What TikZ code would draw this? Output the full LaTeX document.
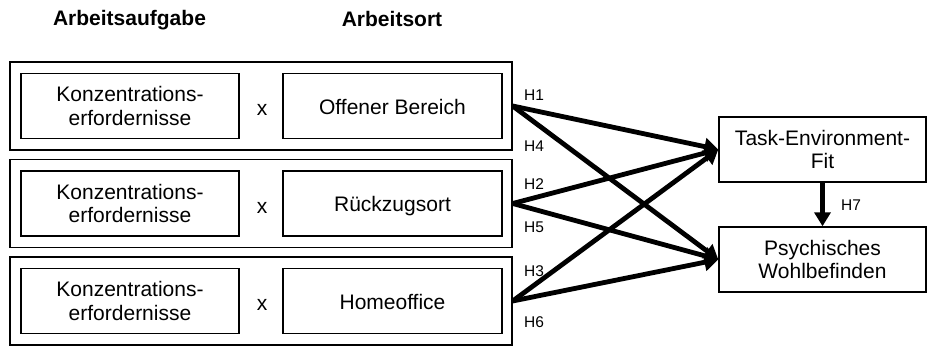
\documentclass[tikz,border=0pt]{standalone}
\usepackage{fontspec}
\setmainfont{Liberation Sans}
\usetikzlibrary{arrows.meta}
\begin{document}
\begin{tikzpicture}[x=1pt,y=-1pt,
  txt/.style={font=\fontsize{21}{23.5}\selectfont, align=center, inner sep=0pt},
  inbox/.style={txt, draw, line width=1.4pt, minimum height=65pt},
  outbox/.style={draw, line width=1.4pt, minimum width=502pt, minimum height=88pt, inner sep=0pt},
  head/.style={font=\fontsize{21}{24}\selectfont\bfseries, inner sep=0pt},
  hlab/.style={font=\fontsize{15.5}{18}\selectfont, inner sep=0pt},
  arr/.style={line width=4.8pt, -{Triangle[length=14pt,width=17pt]}},
]
\useasboundingbox (0,0) rectangle (928,347);
% headers
\node[head] (h1) at (129.5,20) {Arbeitsaufgabe};
\node[head] (h2) at (392,19) {Arbeitsort};
% rows
\foreach \i/\y/\ort in {1/106/Offener Bereich, 2/203.5/Rückzugsort, 3/301/Homeoffice}{
  \node[outbox] (o\i) at (261,\y) {};
  \node[inbox, minimum width=218pt] (k\i) at (130,\y) {Konzentrations-\\erfordernisse};
  \node[txt] (x\i) at (262,\y+4) {x};
  \node[inbox, minimum width=219pt, text height=21pt, text depth=4pt] (a\i) at (392.5,\y) {\ort};
}
% right boxes
\node[inbox, minimum width=207pt] (tef) at (822.5,149.5) {Task-Environment-\\Fit};
\node[inbox, minimum width=207pt] (pw) at (822.5,259.5) {Psychisches\\Wohlbefinden};
% arrows
\draw[arr] (o1.east) -- (tef.west);
\draw[arr] (o1.east) -- (pw.west);
\draw[arr] (o2.east) -- (tef.west);
\draw[arr] (o2.east) -- (pw.west);
\draw[arr] (o3.east) -- (tef.west);
\draw[arr] (o3.east) -- (pw.west);
\draw[line width=4.8pt, -{Triangle[length=14pt,width=16pt]}] (tef.south) -- (pw.north);
% labels
\node[hlab] (l1) at (534,95) {H1};
\node[hlab] (l4) at (534,146) {H4};
\node[hlab] (l2) at (534,184) {H2};
\node[hlab] (l5) at (534,227) {H5};
\node[hlab] (l3) at (534,271) {H3};
\node[hlab] (l6) at (534,322) {H6};
\node[hlab] (l7) at (851,205) {H7};
\end{tikzpicture}
\end{document}
